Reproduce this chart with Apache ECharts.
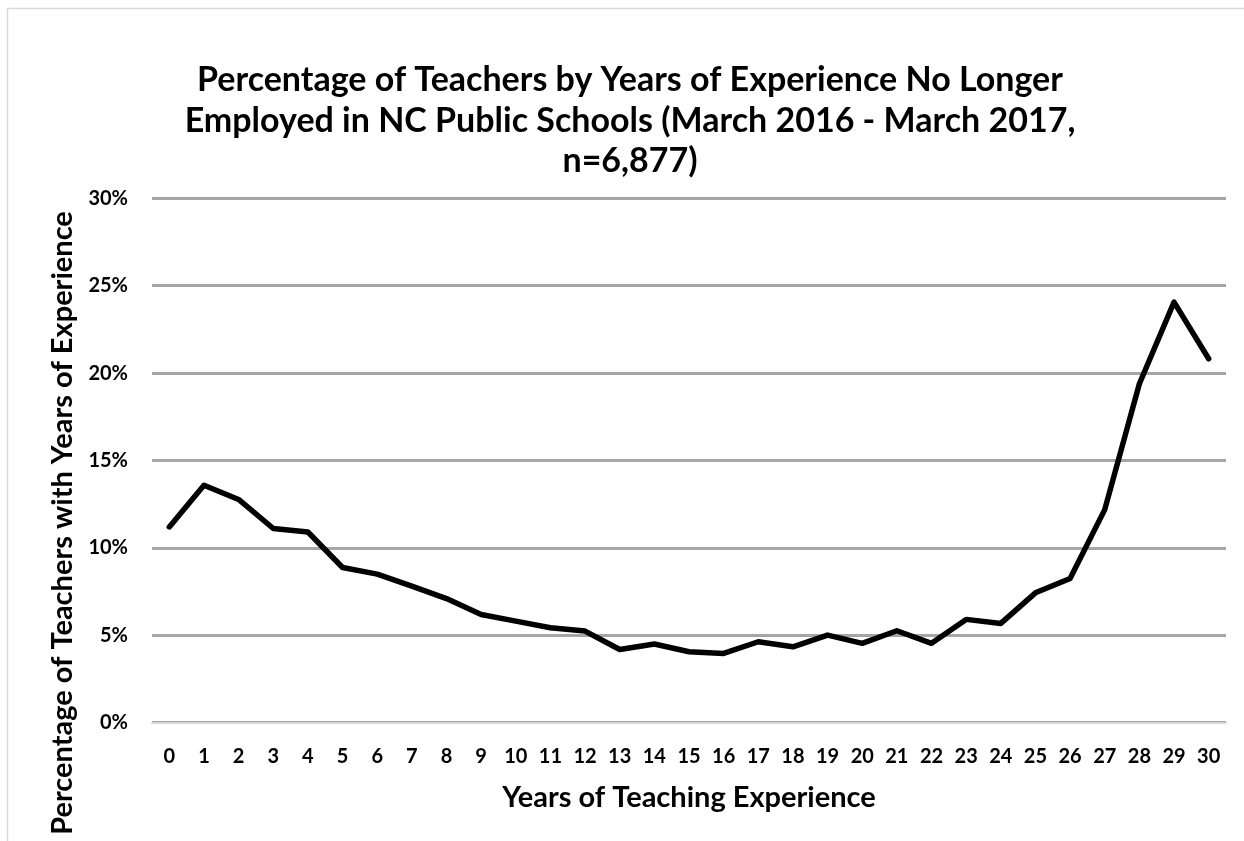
<!DOCTYPE html>
<html>
<head>
<meta charset="utf-8">
<script src="https://cdn.jsdelivr.net/npm/echarts@6/dist/echarts.min.js"></script>
<style>html,body{margin:0;padding:0;background:#fff;}#c{width:1244px;height:841px;}</style>
</head>
<body>
<div id="c"></div>
<script>
const years = ['0','1','2','3','4','5','6','7','8','9','10','11','12','13','14','15','16','17','18','19','20','21','22','23','24','25','26','27','28','29','30'];
const pctLeft = [11.2, 13.58, 12.77, 11.11, 10.91, 8.88, 8.5, 7.81, 7.1, 6.19, 5.81, 5.43, 5.24, 4.19, 4.5, 4.06, 3.96, 4.63, 4.34, 5.01, 4.54, 5.26, 4.54, 5.91, 5.68, 7.43, 8.25, 12.19, 19.39, 24.06, 20.82];
const yTicks = [0, 5, 10, 15, 20, 25, 30];
const titleText = 'Percentage of Teachers by Years of Experience No Longer\nEmployed in NC Public Schools (March 2016 - March 2017,\nn=6,877)';
const xTitle = 'Years of Teaching Experience';
const yTitle = 'Percentage of Teachers with Years of Experience';

const FONT = 'Lato';
const chart = echarts.init(document.getElementById('c'), null, {renderer: 'canvas'});
chart.setOption({
  backgroundColor: '#fff',
  animation: false,
  graphic: [
    {type: 'rect', shape: {x: 7.5, y: 8.5, width: 1400, height: 1000}, style: {fill: 'none', stroke: '#d9d9d9', lineWidth: 1.5}, silent: true, z: -10},
    {type: 'text', x: 630, y: 60, style: {text: titleText, fontFamily: FONT, fontWeight: 'bold', fontSize: 34, lineHeight: 40.5, fill: '#000', align: 'center', verticalAlign: 'top'}},
    {type: 'text', x: 63, y: 523, rotation: Math.PI / 2, style: {text: yTitle, fontFamily: FONT, fontWeight: 'bold', fontSize: 29, fill: '#000', align: 'center', verticalAlign: 'middle'}}
  ],
  grid: {left: 152, right: 18, top: 198.3, bottom: 841 - 722.7, containLabel: false},
  xAxis: {
    type: 'category',
    data: years,
    boundaryGap: true,
    axisLine: {show: true, lineStyle: {color: '#d9d9d9', width: 2}},
    axisTick: {show: false},
    axisLabel: {margin: 24, fontFamily: FONT, fontWeight: 'bold', fontSize: 20, color: '#000', interval: 0},
    name: xTitle,
    nameLocation: 'middle',
    nameGap: 60,
    nameTextStyle: {fontFamily: FONT, fontWeight: 'bold', fontSize: 29, color: '#000'}
  },
  yAxis: {
    type: 'value',
    min: yTicks[0],
    max: yTicks[yTicks.length - 1],
    interval: 5,
    axisLine: {show: false},
    axisTick: {show: false},
    axisLabel: {margin: 24, fontFamily: FONT, fontWeight: 'bold', fontSize: 20, color: '#000', formatter: v => v + '%'},
    splitLine: {show: true, lineStyle: {color: '#a6a6a6', width: 3}}
  },
  series: [{
    type: 'line',
    data: pctLeft,
    symbol: 'none',
    lineStyle: {color: '#000', width: 5.5, cap: 'round', join: 'round'},
    z: 5
  }]
});
</script>
</body>
</html>
